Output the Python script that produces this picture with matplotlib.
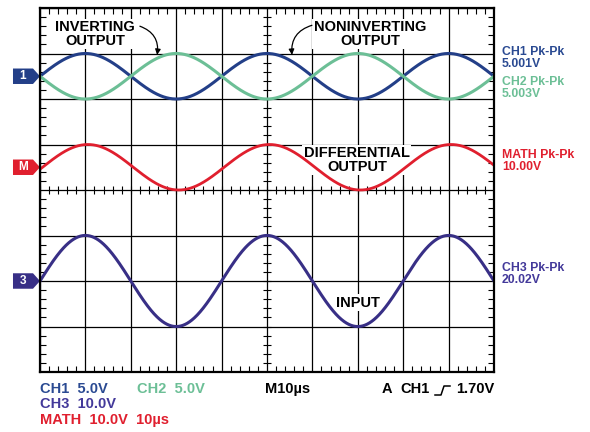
import numpy as np
import matplotlib.pyplot as plt
from matplotlib.patches import Polygon
from matplotlib.lines import Line2D
from matplotlib.transforms import blended_transform_factory

plt.rcParams['font.family'] = ['Liberation Sans', 'DejaVu Sans']
plt.rcParams['font.weight'] = 'bold'

time_per_div = 10e-6          # 10 us/div
signal_freq = 25e3            # okres = 4 dzialki
channels = ['CH1', 'CH2', 'MATH', 'CH3']
volts_per_div = [5.0, 5.0, 10.0, 10.0]
pk_pk = [5.001, 5.003, 10.00, 20.02]
pk_pk_text = ['5.001V', '5.003V', '10.00V', '20.02V']
level_div = [6.5, 6.5, 4.5, 2.0]      # poziom zera kanalu
polarity = [1, -1, 1, 1]
phase_deg = [0, 0, -5, 0]
colors = ['#233f88', '#6cbf96', '#e01f2e', '#382f86']
text_colors = ['#2a4a92', '#6cbf96', '#e01f2e', '#43399a']
markers = ['1', None, 'M', '3']

fig = plt.figure(figsize=(5.9, 4.32), dpi=100)
ax = fig.add_axes([40 / 590, 60 / 432, 454 / 590, 364 / 432])
ax.set_xlim(0, 10)
ax.set_ylim(0, 8)
ax.set_xticks(range(11))
ax.set_yticks(range(9))
ax.set_xticks(np.arange(0, 10.01, 0.2), minor=True)
ax.set_yticks(np.arange(0, 8.01, 0.2), minor=True)
ax.tick_params(which='major', length=0, labelbottom=False, labelleft=False)
ax.tick_params(which='minor', direction='in', length=4, width=0.8,
               top=True, right=True, color='k')
ax.grid(True, which='major', color='k', lw=0.9, zorder=1)
ax.set_axisbelow(True)
for s in ax.spines.values():
    s.set_linewidth(1.6)
    s.set_zorder(6)

# znaczniki na osiach srodkowych
mx = np.arange(0, 10.01, 0.2)
my = np.arange(0, 8.01, 0.2)
ax.plot(mx, np.full(len(mx), 4.0), ls='', marker='|', ms=6, mew=0.8, color='k', zorder=1.5)
ax.plot(np.full(len(my), 5.0), my, ls='', marker='_', ms=6, mew=0.8, color='k', zorder=1.5)

# przebiegi
t = np.linspace(0, 10 * time_per_div, 1200)
x_div = t / time_per_div
for i in range(len(channels)):
    amp = pk_pk[i] / volts_per_div[i] / 2
    y = level_div[i] + polarity[i] * amp * np.sin(2 * np.pi * signal_freq * t + np.radians(phase_deg[i]))
    lw = 2.0 if channels[i] == 'MATH' else 2.2
    ax.plot(x_div, y, color=colors[i], lw=lw, zorder=3)

# znaczniki kanalow po lewej
tr = blended_transform_factory(ax.transAxes, ax.transData)
for i in range(len(channels)):
    if markers[i] is None:
        continue
    lv = level_div[i]
    h = 0.17
    pts = [(-0.0595, lv - h), (-0.0154, lv - h), (0, lv), (-0.0154, lv + h), (-0.0595, lv + h)]
    ax.add_patch(Polygon(pts, closed=True, transform=tr, clip_on=False,
                         facecolor=colors[i], edgecolor='none'))
    ax.text(-0.038, lv, markers[i], transform=tr, color='white', fontsize=8.5,
            ha='center', va='center')

# opisy
box = dict(facecolor='white', edgecolor='none', pad=1)
ax.text(1.21, 7.43, 'INVERTING\nOUTPUT', ha='center', va='center', fontsize=10.5,
        linespacing=0.95, bbox=box, zorder=2)
ax.text(7.27, 7.43, 'NONINVERTING\nOUTPUT', ha='center', va='center', fontsize=10.5,
        linespacing=0.95, bbox=box, zorder=2)
ax.text(6.98, 4.66, 'DIFFERENTIAL\nOUTPUT', ha='center', va='center', fontsize=10.5,
        linespacing=0.95, bbox=box, zorder=2)
ax.text(7.0, 1.52, 'INPUT', ha='center', va='center', fontsize=10.5, bbox=box, zorder=2)

ax.annotate('', xy=(2.58, 6.97), xytext=(2.2, 7.6),
            arrowprops=dict(arrowstyle='-|>', color='k', lw=0.9, mutation_scale=8,
                            shrinkA=0, shrinkB=0, connectionstyle='arc3,rad=-0.4'),
            zorder=5)
ax.annotate('', xy=(5.55, 6.97), xytext=(5.99, 7.62),
            arrowprops=dict(arrowstyle='-|>', color='k', lw=0.9, mutation_scale=8,
                            shrinkA=0, shrinkB=0, connectionstyle='arc3,rad=0.4'),
            zorder=5)


def px(x, y):
    return x / 590, 1 - y / 432


# pomiary Pk-Pk po prawej
right_y = [58, 88, 161, 274]
for i in range(len(channels)):
    fig.text(*px(502, right_y[i]), channels[i] + ' Pk-Pk\n' + pk_pk_text[i],
             color=text_colors[i], fontsize=8.8, ha='left', va='center', linespacing=1.0)

# ustawienia na dole
fig.text(*px(40, 389), 'CH1  5.0V', color=text_colors[0], fontsize=10.5, va='center')
fig.text(*px(137, 389), 'CH2  5.0V', color=text_colors[1], fontsize=10.5, va='center')
fig.text(*px(40, 404), 'CH3  10.0V', color=text_colors[3], fontsize=10.5, va='center')
fig.text(*px(40, 420), 'MATH  10.0V  10\u00b5s', color=text_colors[2], fontsize=10.5, va='center')
fig.text(*px(265, 389), 'M10\u00b5s', color='k', fontsize=10.5, va='center')
fig.text(*px(382, 389), 'A', color='k', fontsize=10.5, va='center')
fig.text(*px(430, 389), 'CH1', color='k', fontsize=10.5, va='center', ha='right')
fig.text(*px(494, 389), '1.70V', color='k', fontsize=10.5, va='center', ha='right')
# symbol zbocza narastajacego
ex = np.array([435, 441, 444, 450]) / 590
ey = 1 - np.array([395, 395, 386, 386]) / 432
fig.add_artist(Line2D(ex, ey, color='k', lw=1.1))

fig.savefig('out.png', dpi=100)
